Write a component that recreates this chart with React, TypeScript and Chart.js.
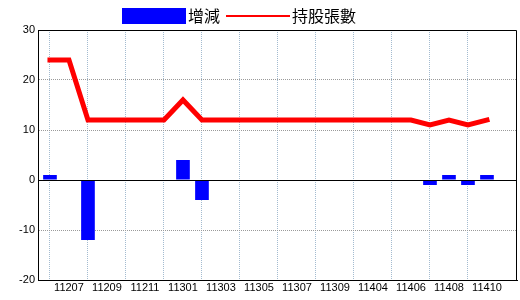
import React, { useEffect, useRef } from 'react';
import { Chart, registerables } from 'chart.js';

Chart.register(...registerables);

const categories = [
  '11206', '11207', '11208', '11209', '11210', '11211', '11212', '11301',
  '11302', '11303', '11304', '11305', '11306', '11307', '11308', '11309',
  '11312', '11404', '11405', '11406', '11407', '11408', '11409', '11410',
];
const changeValues = [1, 0, -12, 0, 0, 0, 0, 4, -4, 0, 0, 0, 0, 0, 0, 0, 0, 0, 0, 0, -1, 1, -1, 1];
const holdings = [24, 24, 12, 12, 12, 12, 12, 16, 12, 12, 12, 12, 12, 12, 12, 12, 12, 12, 12, 12, 11, 12, 11, 12];
const yTicks = [-20, -10, 0, 10, 20, 30];
const seriesNames = ['增減', '持股張數'];

const BAR_COLOR = '#0000ff';
const LINE_COLOR = '#ff0000';

function makeSwatch(w: number, h: number, color: string): HTMLCanvasElement {
  const c = document.createElement('canvas');
  c.width = w;
  c.height = h;
  const g = c.getContext('2d')!;
  g.fillStyle = color;
  g.fillRect(0, 0, w, h);
  return c;
}

export default function App() {
  const ref = useRef<HTMLCanvasElement | null>(null);

  useEffect(() => {
    if (!ref.current) return;
    const barSwatch = makeSwatch(64, 16, BAR_COLOR);
    const lineSwatch = makeSwatch(64, 2, LINE_COLOR);

    const framePlugin = {
      id: 'frame',
      afterDatasetsDraw(chart: any) {
        const { ctx, chartArea: a, scales } = chart;
        const y0 = Math.round(scales.y.getPixelForValue(0)) + 0.5;
        ctx.save();
        ctx.strokeStyle = '#000';
        ctx.lineWidth = 1;
        ctx.setLineDash([]);
        ctx.beginPath();
        ctx.moveTo(a.left, y0);
        ctx.lineTo(a.right, y0);
        ctx.moveTo(a.left, a.top + 0.5);
        ctx.lineTo(a.right - 0.5, a.top + 0.5);
        ctx.lineTo(a.right - 0.5, a.bottom + 1);
        ctx.stroke();
        ctx.restore();
      },
    };

    const legendPlugin = {
      id: 'legendFit',
      afterInit(chart: any) {
        const legend = chart.legend;
        if (!legend) return;
        const orig = legend.fit.bind(legend);
        legend.fit = function () {
          orig();
          this.height = 30;
        };
      },
      afterLayout(chart: any) {
        const legend = chart.legend;
        if (!legend) return;
        legend.left = 116;
        legend.top = -4;
      },
    };

    const chart = new Chart(ref.current, {
      type: 'bar',
      data: {
        datasets: [
          {
            type: 'bar',
            label: seriesNames[0],
            data: changeValues.map((v, i) => ({ x: i, y: v })),
            backgroundColor: BAR_COLOR,
            borderColor: BAR_COLOR,
            borderWidth: 0,
          },
          {
            type: 'line',
            label: seriesNames[1],
            data: holdings.map((v, i) => ({ x: i, y: v })),
            borderColor: LINE_COLOR,
            backgroundColor: LINE_COLOR,
            borderWidth: 5,
            borderCapStyle: 'square',
            pointRadius: 0,
            fill: false,
            tension: 0,
          },
        ] as any,
      },
      options: {
        animation: false,
        responsive: false,
        devicePixelRatio: 1,
        events: [],
        layout: { padding: { left: 0, right: 3, top: 0, bottom: 0 } },
        scales: {
          x: {
            type: 'linear',
            offset: false,
            min: -0.63,
            max: 24.58,
            afterBuildTicks: (scale: any) => {
              scale.ticks = categories.map((_, i) => ({ value: i }));
            },
            afterFit: (scale: any) => {
              scale.height = 20;
            },
            grid: {
              drawTicks: false,
              offset: false,
              color: (ctx: any) => (ctx.index % 2 === 0 ? '#a3bbd0' : 'rgba(0,0,0,0)'),
              lineWidth: 1,
            },
            border: { display: true, color: '#000', width: 1, dash: [1, 1] },
            ticks: {
              autoSkip: false,
              maxRotation: 0,
              minRotation: 0,
              padding: 1,
              color: '#000',
              font: { family: "'Liberation Sans', Arial, sans-serif", size: 11 },
              callback: (value: any) => {
                const i = Number(value);
                return Number.isInteger(i) && i % 2 === 1 && categories[i] ? categories[i] : '';
              },
            },
          },
          y: {
            type: 'linear',
            min: yTicks[0],
            max: yTicks[yTicks.length - 1],
            afterBuildTicks: (scale: any) => {
              scale.ticks = yTicks.map((v) => ({ value: v }));
            },
            afterFit: (scale: any) => {
              scale.width = 38;
            },
            grid: {
              drawTicks: false,
              color: (ctx: any) => {
                const v = ctx.tick ? ctx.tick.value : 0;
                return v === 0 || v === yTicks[0] || v === yTicks[yTicks.length - 1]
                  ? 'rgba(0,0,0,0)'
                  : '#9a9a9a';
              },
              lineWidth: 1,
            },
            border: { display: true, color: '#000', width: 1, dash: [1, 1] },
            ticks: {
              padding: 3,
              color: '#000',
              font: { family: "'Liberation Sans', Arial, sans-serif", size: 11 },
            },
          },
        },
        plugins: {
          tooltip: { enabled: false },
          legend: {
            display: true,
            position: 'top',
            align: 'start',
            labels: {
              usePointStyle: true,
              pointStyleWidth: 52,
              boxWidth: 52,
              boxHeight: 16,
              padding: 12,
              color: '#000',
              font: { family: "'Noto Sans CJK TC', 'Noto Sans CJK SC', sans-serif", size: 16 },
              generateLabels: (c: any) =>
                c.data.datasets.map((ds: any, i: number) => ({
                  text: ds.label,
                  pointStyle: i === 0 ? barSwatch : lineSwatch,
                  fillStyle: ds.backgroundColor,
                  strokeStyle: ds.borderColor,
                  lineWidth: 0,
                  hidden: false,
                  datasetIndex: i,
                  fontColor: '#000',
                })),
            },
          },
        },
      } as any,
      plugins: [framePlugin, legendPlugin],
    });

    return () => {
      chart.destroy();
    };
  }, []);

  return (
    <div style={{ position: 'absolute', left: 0, top: 0, width: 520, height: 300, background: '#fff' }}>
      <canvas ref={ref} width={520} height={300} style={{ display: 'block', width: 520, height: 300 }} />
    </div>
  );
}
